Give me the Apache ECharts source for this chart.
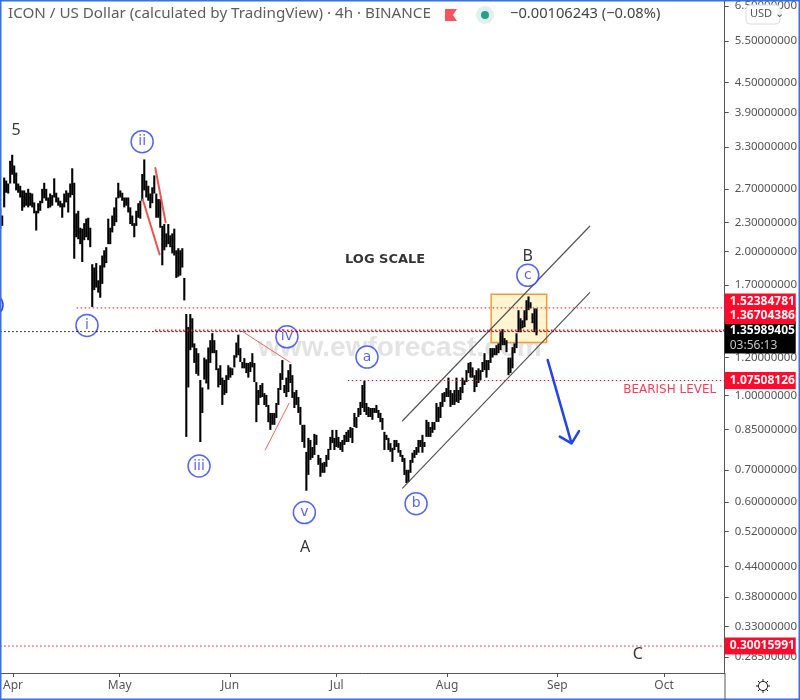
<!DOCTYPE html>
<html>
<head>
<meta charset="utf-8">
<title>ICON / US Dollar</title>
<script src="https://cdn.jsdelivr.net/npm/echarts@6/dist/echarts.min.js"></script>
<style>
html, body { margin: 0; padding: 0; background: #fff; }
#chart { width: 800px; height: 700px; }
</style>
</head>
<body>
<div id="chart"></div>
<script>
// axis ticks
var priceTicks = [6.5, 5.5, 4.5, 3.9, 3.3, 2.7, 2.3, 2.0, 1.7, 1.2, 1.0, 0.85, 0.7, 0.6, 0.52, 0.44, 0.38, 0.33, 0.285];
var monthTicks = [[2021, 3, 'Apr'], [2021, 4, 'May'], [2021, 5, 'Jun'], [2021, 6, 'Jul'], [2021, 7, 'Aug'], [2021, 8, 'Sep'], [2021, 9, 'Oct']];

// price range: one high/low pair about every 13.5 hours
var barHours = 13.5;
var barHighs = [
	2.46,2.375,2.85,2.81,2.77,3.09,3.18,3.02,2.92,2.77,
	2.74,2.68,2.68,2.65,2.70,2.65,2.64,2.53,2.43,2.52,
	2.55,2.70,2.78,2.70,2.59,2.64,2.62,2.84,2.65,2.59,
	2.55,2.52,2.64,2.68,2.65,2.77,2.98,2.78,2.40,2.43,
	2.24,2.23,2.29,2.34,2.35,2.24,1.88,1.85,1.89,1.74,
	1.87,1.96,2.01,2.04,2.34,2.24,2.375,2.47,2.59,2.78,
	2.68,2.65,2.59,2.59,2.59,2.47,2.375,2.29,2.43,2.52,
	2.55,2.90,3.11,2.81,2.74,2.64,2.72,2.88,2.64,2.57,
	2.57,2.26,2.28,2.18,2.28,2.16,2.18,2.23,2.01,2.03,
	2.01,2.03,1.76,1.48,1.39,1.48,1.45,1.285,1.256,1.226,
	1.078,1.04,1.20,1.19,1.26,1.305,1.35,1.305,1.244,1.14,
	1.157,1.09,1.078,1.103,1.157,1.145,1.14,1.214,1.29,1.34,
	1.256,1.175,1.197,1.17,1.17,1.175,1.226,1.17,1.067,1.027,
	1.052,1.062,1.012,1.003,.956,.92,.92,.92,.965,1.037,
	1.114,1.186,1.052,1.09,1.13,1.163,1.103,1.017,1.027,.993,
	.947,.869,.869,.763,.816,.808,.781,.832,.828,.752,
	.741,.724,.727,.752,.774,.82,.848,.816,.848,.82,
	.80,.808,.828,.84,.848,.86,.856,.92,.902,.942,
	.97,1.052,1.073,.965,.947,.942,.942,.942,.956,.933,
	.92,.898,.84,.828,.816,.796,.778,.808,.808,.796,
	.77,.752,.741,.70,.70,.734,.76,.77,.781,.808,
	.808,.828,.80,.89,.881,.86,.881,.881,.965,.947,
	.97,1.012,1.017,1.037,1.09,1.027,1.012,1.027,1.09,1.027,
	1.042,1.09,1.078,1.13,1.17,1.175,1.145,1.103,1.13,1.14,
	1.13,1.175,1.226,1.186,1.186,1.256,1.256,1.256,1.274,1.285,
	1.356,1.376,1.318,1.305,1.20,1.20,1.262,1.285,1.349,1.507,
	1.45,1.436,1.507,1.581,1.61,1.566,1.485,1.52,1.52
];
var barLows = [
	2.23,2.26,2.47,2.65,2.64,2.77,2.89,2.77,2.68,2.65,
	2.59,2.43,2.47,2.49,2.47,2.49,2.47,2.40,2.21,2.40,
	2.43,2.52,2.58,2.55,2.46,2.47,2.49,2.59,2.53,2.49,
	2.47,2.35,2.47,2.53,2.41,2.59,2.62,1.93,2.14,2.12,
	2.07,1.90,2.11,2.14,2.11,2.04,1.53,1.66,1.68,1.64,
	1.60,1.71,1.85,1.89,2.07,2.07,2.19,2.26,2.30,2.58,
	2.59,2.55,2.47,2.49,2.41,2.28,2.26,2.14,2.26,2.35,
	2.34,2.55,2.68,2.59,2.55,2.46,2.52,2.64,2.35,2.35,
	2.24,1.87,2.01,2.04,2.07,2.04,1.98,1.96,1.76,1.77,
	1.78,1.85,1.58,.82,1.04,1.244,1.26,1.17,1.11,1.10,
	.80,.92,1.08,1.06,1.03,1.17,1.226,1.226,1.13,1.04,
	1.052,.956,1.003,1.012,1.078,1.09,1.103,1.145,1.20,1.214,
	1.175,1.14,1.14,1.114,1.09,1.12,1.145,1.067,.88,.956,
	.989,.993,.956,.947,.88,.848,.869,.869,.898,.956,
	1.027,1.078,1.012,.993,1.017,1.062,.989,.942,.956,.92,
	.869,.80,.778,.633,.683,.734,.741,.752,.789,.717,
	.677,.69,.69,.71,.734,.77,.796,.77,.781,.778,
	.77,.763,.789,.80,.80,.816,.796,.86,.856,.902,
	.911,.942,.924,.911,.902,.902,.89,.92,.92,.898,
	.88,.848,.77,.808,.77,.763,.727,.77,.781,.76,
	.745,.727,.683,.657,.66,.69,.724,.741,.752,.76,
	.781,.76,.781,.82,.82,.82,.836,.848,.881,.881,
	.898,.947,.97,.993,.993,.947,.956,.956,.97,.965,
	.979,1.012,1.052,1.067,1.114,1.09,1.09,1.017,1.042,1.062,
	1.078,1.12,1.13,1.09,1.13,1.17,1.20,1.214,1.214,1.226,
	1.244,1.274,1.274,1.232,1.103,1.114,1.14,1.226,1.256,1.356,
	1.356,1.382,1.389,1.436,1.507,1.52,1.416,1.356,1.336
];

// horizontal levels: price, day the line starts (days after 1 Apr), tag text
var levelPrices = [1.52384781, 1.36704386, 1.07508126, 0.30015991];
var levelStarts = [17.9, 39.9, 94.1, -3.6];
var levelTags = ['1.52384781', '1.36704386', '1.07508126', '0.30015991'];
var lastPrice = 1.35989405;
var lastTag = '1.35989405';
var lastCountdown = '03:56:13';

// wave labels: text, day after 1 Apr, price
var circledLabels = [
	['ii', 36.3, 3.387], ['i', 20.8, 1.401], ['iii', 52.3, 0.713], ['iv', 77, 1.326], ['v', 81.9, 0.570],
	['a', 99.5, 1.203], ['b', 113.3, 0.595], ['c', 144.7, 1.782]
];
var plainLabels = [['5', 0.9, 3.571], ['A', 82.1, 0.483], ['B', 144.7, 1.952], ['C', 175.6, 0.2877]];

// drawn trend lines: [day, price] pairs
var redThick = [[[36.5, 2.562], [41.2, 1.971]], [[40.0, 2.985], [42.9, 2.300]]];
var redThin = [[[64.4, 1.362], [77.9, 1.173]], [[70.9, 0.770], [77.6, 0.964]]];
var channelLines = [[[109.5, 0.886], [162.1, 2.256]], [[109.5, 0.641], [162.1, 1.640]]];
var arrowPath = [[150.3, 1.186], [157, 0.795]];
var arrowHead = [[153.7, 0.821], [157, 0.795], [159.1, 0.843]];
var boxDays = [134.4, 150];
var boxPrices = [1.291, 1.627];

var BLUE = '#2b3df5', RED = '#ff0a2b', GREY = '#555', FONT = '"Noto Sans", sans-serif';
var APR1 = new Date(2021, 3, 1).getTime(), DAY = 86400000;
function day(d){ return APR1 + d * DAY; }

var xMin = day(-3.6), xMax = day(200.05);
var monthTimes = monthTicks.map(function(m){ return new Date(m[0], m[1], 1).getTime(); });

var bars = barHighs.map(function(h, i){
	return [xMin + i * barHours * 3600000, barLows[i], h];
});

function dayPairs(points){
	return points.map(function(p){ return [day(p[0]), p[1]]; });
}
function lineSeries(points, color, width){
	return {
		type: 'line', silent: true, symbol: 'none', animation: false, z: 4,
		lineStyle: { color: color, width: width, cap: 'round' },
		data: dayPairs(points)
	};
}
function levelSeries(price, start, tag, dy, tagColor, width, lineColor){
	return {
		type: 'line', silent: true, symbol: 'none', animation: false, z: 7,
		lineStyle: { color: lineColor, width: width, type: [1.5, 2.5] },
		data: [[day(start), price], [xMax, price]],
		endLabel: {
			show: true, distance: 0, offset: [0, dy],
			formatter: tag, color: '#fff', fontFamily: FONT, fontSize: 12, fontWeight: 'bold',
			backgroundColor: tagColor, width: 66, align: 'left', padding: [1, 0, 1, 5], lineHeight: 15,
			rich: { sub: { color: '#c4c4c4', fontFamily: FONT, fontSize: 12, lineHeight: 15, fontWeight: 'normal' } }
		}
	};
}

var series = [{
	type: 'custom', silent: true, animation: false, z: 3,
	encode: { x: 0, y: [1, 2] },
	renderItem: function(params, api){
		var a = api.coord([api.value(0), api.value(1)]);
		var b = api.coord([api.value(0), api.value(2)]);
		return {
			type: 'line',
			shape: { x1: a[0], y1: a[1], x2: b[0], y2: b[1] },
			style: { stroke: '#000', lineWidth: 2.1 }
		};
	},
	data: bars,
	markArea: {
		silent: true, z: 1,
		itemStyle: { color: '#fff5d0', opacity: 1, borderColor: '#f89a2c', borderWidth: 1.5 },
		data: [[{ xAxis: day(boxDays[0]), yAxis: boxPrices[1] }, { xAxis: day(boxDays[1]), yAxis: boxPrices[0] }]]
	}
}];
redThick.forEach(function(p){ series.push(lineSeries(p, '#f4544f', 2)); });
redThin.forEach(function(p){ series.push(lineSeries(p, '#f4645f', 1)); });
channelLines.forEach(function(p){ series.push(lineSeries(p, GREY, 1.2)); });
series.push(lineSeries(arrowPath, '#2244ee', 2.5));
series.push(lineSeries(arrowHead, '#2244ee', 2.5));

series.push(levelSeries(lastPrice, -3.6, lastTag + '\n{sub|' + lastCountdown + '}', 6, '#000', 1, '#000'));
series.push(levelSeries(levelPrices[0], levelStarts[0], levelTags[0], -6, RED, 1, RED));
series.push(levelSeries(levelPrices[1], levelStarts[1], levelTags[1], -15, RED, 1.8, RED));
series.push(levelSeries(levelPrices[2], levelStarts[2], levelTags[2], 0, RED, 1, RED));
series.push(levelSeries(levelPrices[3], levelStarts[3], levelTags[3], 0, RED, 1, RED));

series.push({
	type: 'scatter', silent: true, animation: false, z: 6, symbol: 'circle', symbolSize: 22,
	itemStyle: { color: '#fff', borderColor: BLUE, borderWidth: 1.5 },
	label: { show: true, position: 'inside', color: BLUE, fontFamily: '"DejaVu Sans", sans-serif', fontSize: 14,
		formatter: function(p){ return p.data[2]; } },
	data: circledLabels.map(function(l){ return [day(l[1]), l[2], l[0]]; })
});
series.push({
	type: 'scatter', silent: true, animation: false, z: 6, symbolSize: 0,
	label: { show: true, position: 'inside', color: '#000', fontFamily: FONT, fontSize: 16,
		formatter: function(p){ return p.data[2]; } },
	data: plainLabels.map(function(l){ return [day(l[1]), l[2], l[0]]; })
});
series.push({
	type: 'scatter', silent: true, animation: false, z: 6, symbolSize: 0,
	label: { show: true, position: 'inside', color: '#000', fontFamily: '"DejaVu Sans", sans-serif', fontSize: 13, fontWeight: 'bold',
		formatter: 'LOG SCALE' },
	data: [[day(104.6), 1.924]]
});
series.push({
	type: 'scatter', silent: true, animation: false, z: 6, symbolSize: 0,
	label: { show: true, position: 'inside', color: RED, fontFamily: '"DejaVu Sans", sans-serif', fontSize: 12,
		formatter: 'BEARISH LEVEL' },
	data: [[day(184.6), 1.027]]
});

var option = {
	animation: false,
	backgroundColor: '#fff',
	grid: { left: 0, right: 75, top: 0, bottom: 27 },
	xAxis: {
		type: 'value', min: xMin, max: xMax, scale: true,
		splitLine: { show: false },
		axisLine: { onZero: false, lineStyle: { color: GREY, width: 1 } },
		axisTick: { length: 4, lineStyle: { color: GREY }, customValues: monthTimes },
		axisLabel: {
			customValues: monthTimes, color: GREY, fontFamily: FONT, fontSize: 12, margin: 7,
			hideOverlap: false,
			formatter: function(v){
				var i = monthTimes.indexOf(+v);
				return i >= 0 ? monthTicks[i][2] : '';
			}
		}
	},
	yAxis: {
		type: 'log', position: 'right', min: 0.2637, max: 6.66, logBase: 10,
		splitLine: { show: false }, minorSplitLine: { show: false }, minorTick: { show: false },
		axisLine: { show: true, lineStyle: { color: GREY, width: 1 } },
		axisTick: { show: true, length: 4, lineStyle: { color: GREY }, customValues: priceTicks },
		axisLabel: {
			customValues: priceTicks, color: GREY, fontFamily: FONT, fontSize: 11.5, margin: 10,
			formatter: function(v){ return (+v).toFixed(8); }
		}
	},
	graphic: [
		// frame
		{ type: 'rect', z: 100, silent: true, shape: { x: 0.75, y: 0.75, width: 798.5, height: 698.5 }, style: { fill: null, stroke: '#3a6ee8', lineWidth: 1.5 } },
		{ type: 'line', z: 50, silent: true, shape: { x1: 725, y1: 673, x2: 725, y2: 700 }, style: { stroke: GREY, lineWidth: 1 } },
		// header
		{ type: 'text', z: 50, left: 8, top: 6, style: { text: 'ICON / US Dollar (calculated by TradingView) · 4h · BINANCE', fill: '#5d5d5d', font: '15.2px ' + FONT } },
		{ type: 'polygon', z: 50, silent: true, shape: { points: [[445, 9], [457, 9], [453, 15], [457, 21], [445, 21]] }, style: { fill: '#f9525f' } },
		{ type: 'circle', z: 50, silent: true, shape: { cx: 485, cy: 15, r: 9 }, style: { fill: '#dff0ed' } },
		{ type: 'circle', z: 51, silent: true, shape: { cx: 485, cy: 15, r: 4 }, style: { fill: '#26a08c' } },
		{ type: 'text', z: 50, left: 510, top: 6, style: { text: '−0.00106243 (−0.08%)', fill: '#444', font: '14.7px ' + FONT } },
		// currency button
		{ type: 'rect', z: 50, silent: true, shape: { x: 746, y: 5, width: 34, height: 19, r: 4 }, style: { fill: '#fff', stroke: '#d9dbe6', lineWidth: 1 } },
		{ type: 'text', z: 51, left: 750, top: 8, style: { text: 'USD ⌄', fill: '#555', font: '11px ' + FONT } },
		// watermark
		{ type: 'text', z: 0, left: 258, top: 334, style: { text: 'www.ewforecast.com', fill: 'rgba(200,200,200,.5)', font: 'bold 28px "Liberation Sans", sans-serif' } },
		// cut off circle at the left edge
		{ type: 'circle', z: 50, silent: true, shape: { cx: -8, cy: 305, r: 11 }, style: { fill: '#fff', stroke: BLUE, lineWidth: 1.5 } },
		// bottom right sun icon
		{ type: 'line', z: 50, silent: true, shape: { x1: 763, y1: 679, x2: 763, y2: 693 }, style: { stroke: '#222', lineWidth: 1 } },
		{ type: 'line', z: 50, silent: true, shape: { x1: 756, y1: 686, x2: 770, y2: 686 }, style: { stroke: '#222', lineWidth: 1 } },
		{ type: 'line', z: 50, silent: true, shape: { x1: 758, y1: 681, x2: 768, y2: 691 }, style: { stroke: '#222', lineWidth: 1 } },
		{ type: 'line', z: 50, silent: true, shape: { x1: 758, y1: 691, x2: 768, y2: 681 }, style: { stroke: '#222', lineWidth: 1 } },
		{ type: 'circle', z: 51, silent: true, shape: { cx: 763, cy: 686, r: 4.6 }, style: { fill: '#fff', stroke: '#222', lineWidth: 1 } }
	],
	series: series
};

var chart = echarts.init(document.getElementById('chart'), null, { renderer: 'canvas' });
chart.setOption(option);
</script>
</body>
</html>
